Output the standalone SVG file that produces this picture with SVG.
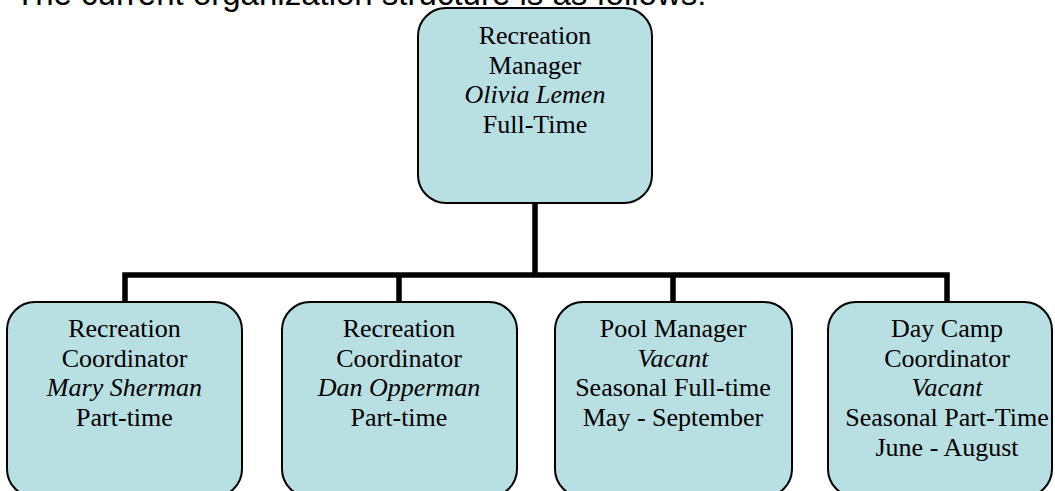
<svg xmlns="http://www.w3.org/2000/svg" width="1055" height="491" viewBox="0 0 1055 491">
<style>
.box{fill:#b8dfe2;stroke:#000;stroke-width:2}
.t{font-family:"Liberation Serif","Times New Roman",serif;font-size:26px;fill:#000;text-anchor:middle}
.i{font-style:italic}
.h{font-family:"Liberation Sans",Arial,sans-serif;font-size:33px;fill:#000}
.c{fill:none;stroke:#000;stroke-width:5.5}
</style>
<rect width="1055" height="491" fill="#fff"/>
<text class="h" x="15" y="5">The current organization structure is as follows:</text>
<g id="connectors">
<path class="c" d="M535 203 V275 M125 302 V275 H947 V302 M399 275 V302 M673 275 V302"/>
</g>
<g id="manager">
<rect class="box" x="418" y="8" width="234" height="195" rx="28"/>
<text class="t" x="535" y="44">Recreation</text>
<text class="t" x="535" y="73.5">Manager</text>
<text class="t i" x="535" y="103">Olivia Lemen</text>
<text class="t" x="535" y="132.5">Full-Time</text>
</g>
<g id="coord1">
<rect class="box" x="7" y="302" width="235" height="195" rx="28"/>
<text class="t" x="124.5" y="337">Recreation</text>
<text class="t" x="124.5" y="366.7">Coordinator</text>
<text class="t i" x="124.5" y="396.4">Mary Sherman</text>
<text class="t" x="124.5" y="426.1">Part-time</text>
</g>
<g id="coord2">
<rect class="box" x="282" y="302" width="235" height="195" rx="28"/>
<text class="t" x="399" y="337">Recreation</text>
<text class="t" x="399" y="366.7">Coordinator</text>
<text class="t i" x="399" y="396.4">Dan Opperman</text>
<text class="t" x="399" y="426.1">Part-time</text>
</g>
<g id="pool">
<rect class="box" x="555" y="302" width="237" height="195" rx="28"/>
<text class="t" x="673" y="337">Pool Manager</text>
<text class="t i" x="673" y="366.7">Vacant</text>
<text class="t" x="673" y="396.4">Seasonal Full-time</text>
<text class="t" x="673" y="426.1">May - September</text>
</g>
<g id="daycamp">
<rect class="box" x="828" y="302" width="224" height="195" rx="28"/>
<text class="t" x="947" y="337">Day Camp</text>
<text class="t" x="947" y="366.7">Coordinator</text>
<text class="t i" x="947" y="396.4">Vacant</text>
<text class="t" x="947" y="426.1">Seasonal Part-Time</text>
<text class="t" x="947" y="455.8">June - August</text>
</g>
</svg>
